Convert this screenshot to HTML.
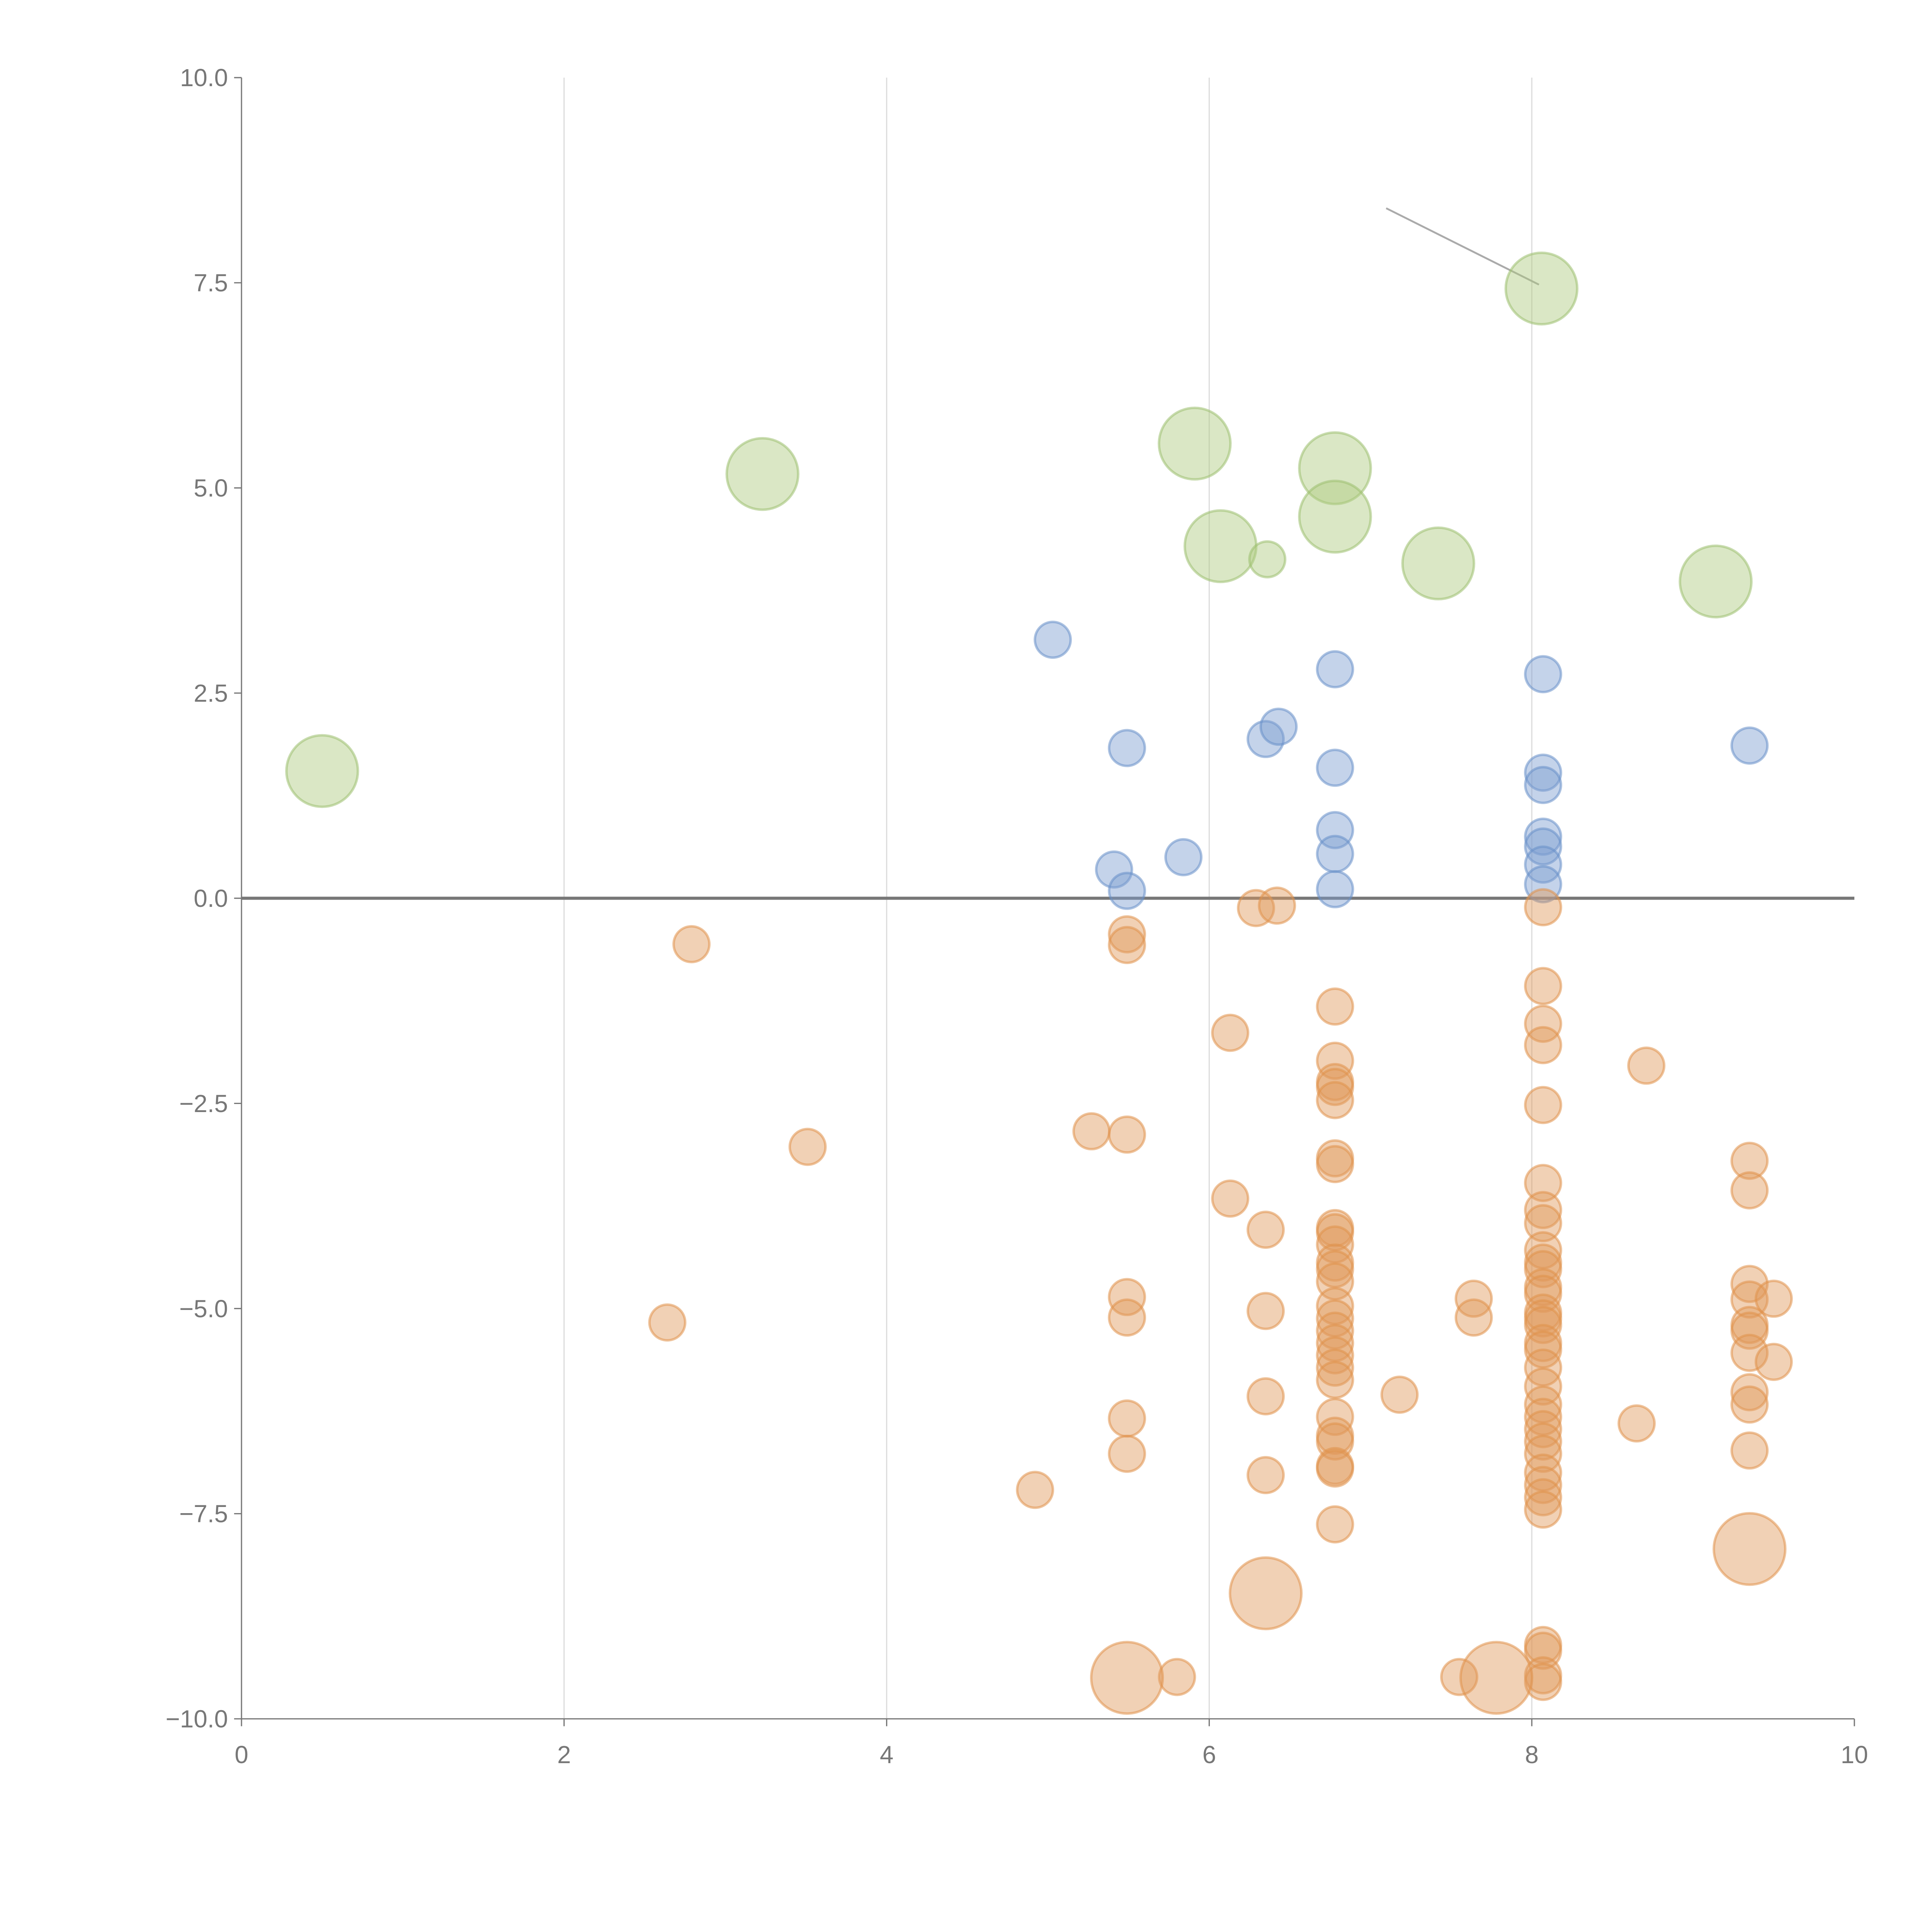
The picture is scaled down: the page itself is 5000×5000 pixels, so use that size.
<!DOCTYPE html>
<html><head><meta charset="utf-8"><style>
html,body{margin:0;padding:0;background:#fff;}
svg{display:block;}
text{font-family:"Liberation Sans",sans-serif;fill:#777;font-size:20px;}
</style></head><body>
<svg id="chart" width="5000" height="5000" viewBox="0 0 1568 1568" xmlns="http://www.w3.org/2000/svg">
<g id="grid"></g>
<g id="axes"></g>
<g id="marks"></g>
</svg>
<script>
const xTicks=[0,2,4,6,8,10];
const yTicks=[10,7.5,5,2.5,0,-2.5,-5,-7.5,-10];
const yTickLabels=["10.0","7.5","5.0","2.5","0.0","\u22122.5","\u22125.0","\u22127.5","\u221210.0"];
const greenX=[0.50,3.23,5.91,6.78,6.78,6.07,6.36,7.42,9.14,8.06];
const greenY=[1.55,5.17,5.54,5.24,4.65,4.29,4.13,4.08,3.86,7.43];
const greenBig=[1,1,1,1,1,1,0,1,1,1];
const blueX=[5.03,5.49,5.41,5.49,5.84,6.35,6.43,6.78,6.78,6.78,6.78,6.78,8.07,8.07,8.07,8.07,8.07,8.07,8.07,9.35];
const blueY=[3.15,1.83,0.35,0.09,0.50,1.94,2.09,2.79,1.59,0.83,0.54,0.11,2.73,1.53,1.38,0.75,0.63,0.41,0.17,1.86];
const orangeColX=[6.78,8.07,5.49,6.35,9.35];
const orangeColY=[
[-1.32,-1.98,-2.24,-2.30,-2.46,-3.17,-3.24,-4.02,-4.07,-4.22,-4.44,-4.52,-4.67,-4.97,-5.12,-5.27,-5.42,-5.57,-5.72,-5.87,-6.32,-6.55,-6.62,-6.92,-6.95,-7.63],
[-0.11,-1.07,-1.53,-1.79,-2.52,-3.47,-3.80,-3.96,-4.29,-4.44,-4.52,-4.74,-4.82,-5.05,-5.12,-5.20,-5.42,-5.50,-5.72,-5.95,-6.17,-6.32,-6.47,-6.62,-6.77,-7.00,-7.15,-7.30,-7.45,-9.10,-9.17,-9.47,-9.55],
[-0.44,-0.57,-2.88,-4.86,-5.11,-6.34,-6.77],
[-4.04,-5.03,-6.07,-7.03],
[-3.20,-3.56,-4.70,-4.89,-5.20,-5.27,-5.54,-6.02,-6.17,-6.73]];
const orangeLooseX=[2.79,3.51,2.64,4.92,5.27,6.13,6.13,6.29,6.42,7.18,7.64,7.64,8.71,8.65,9.50,9.50,5.80,7.55];
const orangeLooseY=[-0.56,-3.03,-5.17,-7.21,-2.84,-1.64,-3.66,-0.12,-0.09,-6.05,-4.88,-5.11,-2.04,-6.40,-4.88,-5.65,-9.49,-9.49];
const orangeBigX=[5.49,6.35,9.35,7.78];
const orangeBigY=[-9.50,-8.47,-7.93,-9.50];

const NS="http://www.w3.org/2000/svg";
const X0=196,X1=1505,Y0=1395,Y1=63;
function sx(v){return X0+v/10*(X1-X0);}
function sy(v){return Y0-(v+10)/20*(Y0-Y1);}
function mk(tag,attrs,parent){const e=document.createElementNS(NS,tag);for(const k in attrs)e.setAttribute(k,attrs[k]);parent.appendChild(e);return e;}
const grid=document.getElementById('grid'),axes=document.getElementById('axes'),marks=document.getElementById('marks');

xTicks.forEach(t=>{
  if(t>0&&t<10){
    const l=mk('line',{x1:sx(t),x2:sx(t),y1:Y1,y2:Y0,stroke:'#ddd','stroke-width':1},grid);
    
    
  }
  const tk=mk('line',{x1:sx(t),x2:sx(t),y1:Y0,y2:Y0+6,stroke:'#777','stroke-width':1},axes);
  
  
  const tx=mk('text',{x:sx(t),y:Y0+36,'text-anchor':'middle'},axes);
  tx.textContent=t;
  
  
});
yTicks.forEach((t,i)=>{
  const tk=mk('line',{x1:X0-6,x2:X0,y1:sy(t),y2:sy(t),stroke:'#777','stroke-width':1},axes);
  
  
  const tx=mk('text',{x:X0-11,y:sy(t)+7,'text-anchor':'end'},axes);
  tx.textContent=yTickLabels[i];
  
  
});
const xa=mk('line',{x1:X0,x2:X1,y1:Y0,y2:Y0,stroke:'#777','stroke-width':1},axes);


const ya=mk('line',{x1:X0,x2:X0,y1:Y1,y2:Y0,stroke:'#777','stroke-width':1},axes);


const zl=mk('line',{x1:X0,x2:X1,y1:sy(0),y2:sy(0),stroke:'#777','stroke-width':2.5},axes);


const an=mk('line',{x1:1125,y1:169,x2:1249,y2:231,stroke:'#aaa','stroke-width':1.5},axes);



function dot(x,y,r,fill,stroke,name){
  const c=mk('circle',{cx:sx(x),cy:sy(y),r:r,fill:fill,'fill-opacity':0.45,stroke:stroke,'stroke-opacity':0.55,'stroke-width':2},marks);
  
  
}
const OF='#e09a5a',OS='#e0914a';
greenX.forEach((x,i)=>dot(x,greenY[i],greenBig[i]?29:14.5,'#aeca7e','#9cc070','green-bubble'));
blueX.forEach((x,i)=>dot(x,blueY[i],14.5,'#7c9dd0','#6890c8','blue-bubble'));
orangeColX.forEach((x,i)=>orangeColY[i].forEach(y=>dot(x,y,14.5,OF,OS,'orange-bubble')));
orangeLooseX.forEach((x,i)=>dot(x,orangeLooseY[i],14.5,OF,OS,'orange-bubble'));
orangeBigX.forEach((x,i)=>dot(x,orangeBigY[i],29,OF,OS,'orange-big-bubble'));
</script>
</body></html>
